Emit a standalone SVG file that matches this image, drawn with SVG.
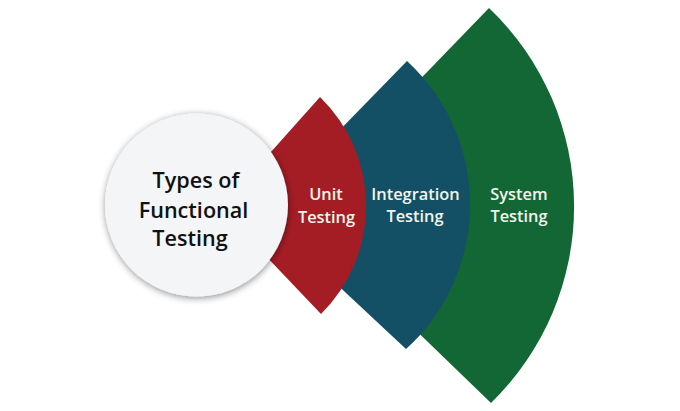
<svg xmlns="http://www.w3.org/2000/svg" width="680" height="411" viewBox="0 0 680 411">
<style>
text{font-family:"Open Sans","Noto Sans",sans-serif;font-weight:600;text-anchor:middle}
.w{fill:#f2f5ec;font-size:16.400px}
.k{fill:#111;font-size:21.600px}
</style>
<defs>
<filter id="s" x="-20%" y="-20%" width="140%" height="140%"><feDropShadow dx="0.500" dy="1.500" stdDeviation="3.500" flood-color="#000" flood-opacity=".45"/></filter>
</defs>
<rect width="680" height="411" fill="#fff"/>
<g id="system">
<path d="M489 8A274 274 0 0 1 491 403L400 315V100Z" fill="#136735"/>
<text class="w" x="519" y="200">System</text><text class="w" x="519" y="222">Testing</text>
</g>
<g id="integration">
<path d="M407 61A195 195 0 0 1 406 349L330 278V140Z" fill="#145065"/>
<text class="w" x="415.500" y="200">Integration</text><text class="w" x="415" y="222">Testing</text>
</g>
<g id="unit">
<path d="M320 97A152 152 0 0 1 321 314L262 252V162Z" fill="#a51d24"/>
<text class="w" x="326" y="200">Unit</text><text class="w" x="326.500" y="223">Testing</text>
</g>
<g id="center">
<circle cx="196.500" cy="205" r="91.500" fill="#f3f5f7" filter="url(#s)"/>
<text class="k" x="196" y="188">Types of</text><text class="k" x="193.500" y="217.500">Functional</text><text class="k" x="190" y="246">Testing</text>
</g>
</svg>
